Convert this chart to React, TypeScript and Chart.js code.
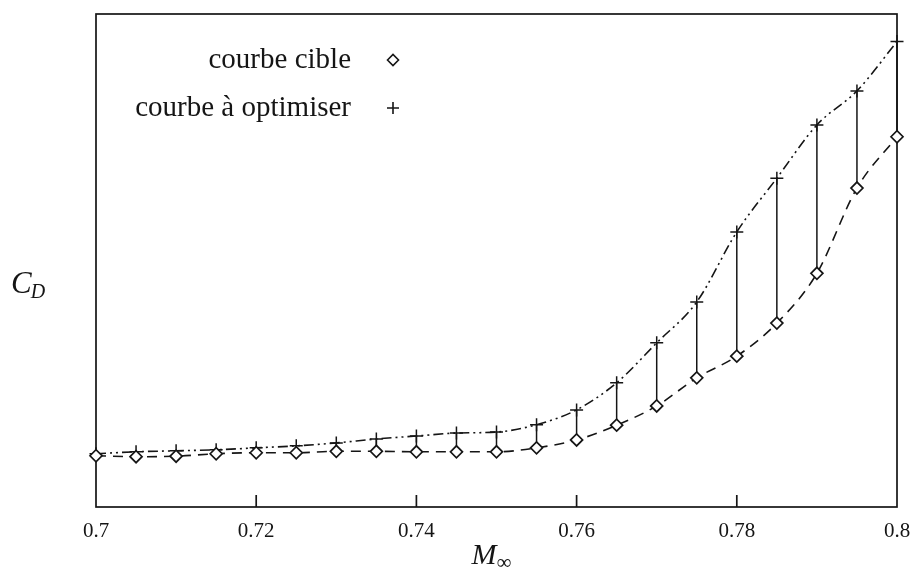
import { useEffect, useRef } from "react";
import { Chart, registerables } from "chart.js";

Chart.register(...registerables);

// Mach numbers along the sweep
const machNumbers = [
  0.7, 0.705, 0.71, 0.715, 0.72, 0.725, 0.73, 0.735, 0.74, 0.745, 0.75,
  0.755, 0.76, 0.765, 0.77, 0.775, 0.78, 0.785, 0.79, 0.795, 0.8,
];

// Drag coefficient, target curve (arbitrary units)
const cdTarget = [
  10.4, 10.2, 10.3, 10.8, 11.0, 11.0, 11.3, 11.3, 11.2, 11.2, 11.2,
  12.0, 13.6, 16.6, 20.5, 26.2, 30.6, 37.3, 47.4, 64.7, 75.1,
];

// Drag coefficient, curve to be optimised (arbitrary units)
const cdOptimized = [
  10.8, 11.2, 11.4, 11.6, 12.0, 12.4, 13.0, 13.8, 14.4, 15.0, 15.2,
  16.7, 19.7, 25.2, 33.3, 41.6, 55.8, 66.7, 77.5, 84.4, 94.4,
];

const xTickValues = [0.7, 0.72, 0.74, 0.76, 0.78, 0.8];
const xTickLabels = ["0.7", "0.72", "0.74", "0.76", "0.78", "0.8"];
const legendLabels = ["courbe cible", "courbe à optimiser"];

const INK = "#151515";
const SERIF = '"Liberation Serif", "Times New Roman", serif';

function drawDiamond(ctx: CanvasRenderingContext2D, x: number, y: number, r: number) {
  ctx.beginPath();
  ctx.moveTo(x - r, y);
  ctx.lineTo(x, y - r);
  ctx.lineTo(x + r, y);
  ctx.lineTo(x, y + r);
  ctx.closePath();
  ctx.stroke();
}

function drawPlus(ctx: CanvasRenderingContext2D, x: number, y: number, r: number) {
  ctx.beginPath();
  ctx.moveTo(x - r, y);
  ctx.lineTo(x + r, y);
  ctx.moveTo(x, y - r);
  ctx.lineTo(x, y + r);
  ctx.stroke();
}

// Vertical segments joining each pair of points at the same Mach number
const gapLines = {
  id: "gapLines",
  beforeDatasetsDraw(chart: any) {
    const { ctx, scales } = chart;
    const xs = scales.x;
    const ys = scales.y;
    ctx.save();
    ctx.strokeStyle = INK;
    ctx.lineWidth = 1.5;
    ctx.setLineDash([]);
    machNumbers.forEach((m, i) => {
      const px = xs.getPixelForValue(m);
      ctx.beginPath();
      ctx.moveTo(px, ys.getPixelForValue(cdOptimized[i]));
      ctx.lineTo(px, ys.getPixelForValue(cdTarget[i]));
      ctx.stroke();
    });
    ctx.restore();
  },
};

// Frame, inward tick marks, axis titles and the in-plot legend
const decorations = {
  id: "decorations",
  beforeDatasetsDraw(chart: any) {
    const { ctx, chartArea, scales } = chart;
    const { left, right, top, bottom } = chartArea;
    ctx.save();
    ctx.strokeStyle = INK;
    ctx.lineWidth = 1.7;
    ctx.setLineDash([]);
    ctx.strokeRect(left, top, right - left, bottom - top);

    // inward ticks on the bottom axis
    xTickValues.slice(1, -1).forEach((v) => {
      const px = scales.x.getPixelForValue(v);
      ctx.beginPath();
      ctx.moveTo(px, bottom);
      ctx.lineTo(px, bottom - 12);
      ctx.stroke();
    });
    ctx.restore();
  },
  afterDraw(chart: any) {
    const { ctx, chartArea } = chart;
    const { left, right } = chartArea;
    ctx.save();
    ctx.strokeStyle = INK;
    ctx.fillStyle = INK;
    ctx.textBaseline = "alphabetic";

    // y axis title: C_D
    ctx.textAlign = "left";
    ctx.font = `italic 31px ${SERIF}`;
    ctx.fillText("C", 11, 293);
    const cW = ctx.measureText("C").width;
    ctx.font = `italic 20px ${SERIF}`;
    ctx.fillText("D", 11 + cW - 1, 298);

    // x axis title: M_∞
    ctx.font = `italic 30px ${SERIF}`;
    const mx = (left + right) / 2 - 25;
    ctx.fillText("M", mx, 564);
    const mW = ctx.measureText("M").width;
    ctx.font = `21px ${SERIF}`;
    ctx.fillText("∞", mx + mW, 569);

    // legend
    ctx.font = `29px ${SERIF}`;
    ctx.textAlign = "right";
    ctx.fillText(legendLabels[0], 351, 68);
    ctx.fillText(legendLabels[1], 351, 116);
    ctx.lineWidth = 1.6;
    drawDiamond(ctx, 393, 60, 5.5);
    drawPlus(ctx, 393, 108, 6);

    ctx.restore();
  },
};

export default function App() {
  const canvasRef = useRef<HTMLCanvasElement | null>(null);

  useEffect(() => {
    const canvas = canvasRef.current;
    if (!canvas) return;

    const targetPoints = machNumbers.map((m, i) => ({ x: m, y: cdTarget[i] }));
    const optimizedPoints = machNumbers.map((m, i) => ({ x: m, y: cdOptimized[i] }));

    const chart = new Chart(canvas, {
      type: "line",
      data: {
        datasets: [
          {
            label: legendLabels[0],
            data: targetPoints,
            borderColor: INK,
            borderWidth: 1.6,
            borderDash: [10, 7],
            cubicInterpolationMode: "monotone",
            pointStyle: "rectRot",
            pointRadius: 6,
            pointBorderWidth: 1.7,
            pointBorderColor: INK,
            pointBackgroundColor: "#ffffff",
            fill: false,
            clip: false,
          },
          {
            label: legendLabels[1],
            data: optimizedPoints,
            borderColor: INK,
            borderWidth: 1.6,
            borderDash: [10, 4, 2, 4, 2, 4],
            cubicInterpolationMode: "monotone",
            pointStyle: "cross",
            pointRadius: 6.5,
            pointBorderWidth: 1.5,
            pointBorderColor: INK,
            fill: false,
            clip: false,
          },
        ],
      },
      options: {
        animation: false,
        responsive: false,
        maintainAspectRatio: false,
        layout: { padding: { left: 96, right: 19, top: 14, bottom: 0 } },
        plugins: {
          legend: { display: false },
          tooltip: { enabled: false },
          title: { display: false },
        },
        scales: {
          x: {
            type: "linear",
            min: 0.7,
            max: 0.8,
            grid: { display: false, drawTicks: false },
            border: { display: false },
            afterBuildTicks: (scale: any) => {
              scale.ticks = xTickValues.map((v) => ({ value: v }));
            },
            afterFit: (scale: any) => {
              scale.height = 64;
              scale.paddingLeft = 0;
              scale.paddingRight = 0;
            },
            ticks: {
              autoSkip: false,
              maxRotation: 0,
              padding: 12,
              color: INK,
              font: { family: SERIF, size: 21 },
              callback: (_v: any, i: number) => xTickLabels[i],
            },
          },
          y: {
            display: false,
            min: 0,
            max: 100,
          },
        },
      },
      plugins: [gapLines, decorations],
    });

    return () => chart.destroy();
  }, []);

  return (
    <div style={{ position: "fixed", left: 0, top: 0, width: 916, height: 571, background: "#fff" }}>
      <canvas ref={canvasRef} width={916} height={571} />
    </div>
  );
}
